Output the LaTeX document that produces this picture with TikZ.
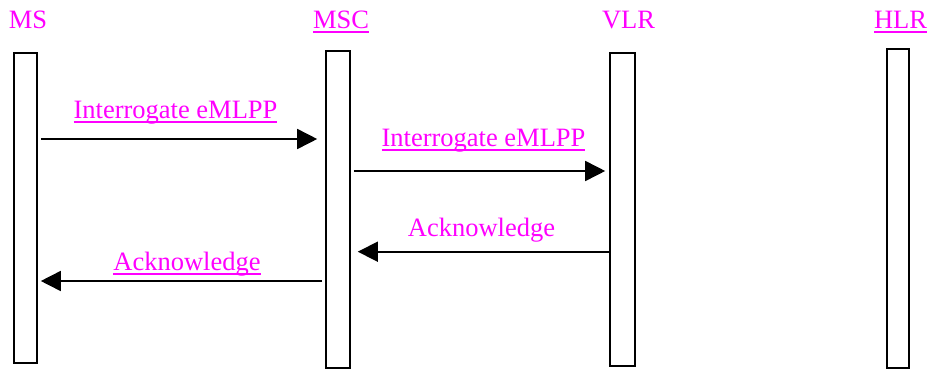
\documentclass[tikz,border=0pt]{standalone}
\usepackage{fontspec}
\setmainfont{Liberation Serif}
\usetikzlibrary{arrows.meta}
\definecolor{lblmagenta}{RGB}{255,0,255}
\newcommand{\ulabel}[1]{\setbox0\hbox{#1}\rlap{\rule[-4.5pt]{\wd0}{2pt}}\box0}

\begin{document}
\begin{tikzpicture}[x=1pt,y=-1pt,
    entity/.style={draw,line width=1.6pt,inner sep=0pt},
    lbl/.style={text=lblmagenta,font=\fontsize{26.5}{31}\selectfont,anchor=base,inner sep=0pt},
    msg/.style={line width=1.6pt,-{Triangle[length=20pt,width=20pt]}}]
  \useasboundingbox (0,0) rectangle (931,369);

  % entities
  \node[entity,minimum width=23pt,minimum height=310pt] (ms) at (25.5,208) {};
  \node[entity,minimum width=24pt,minimum height=317pt] (msc) at (338,209.5) {};
  \node[entity,minimum width=25pt,minimum height=313pt] (vlr) at (622.5,209.5) {};
  \node[entity,minimum width=22pt,minimum height=319pt] (hlr) at (898,208.5) {};

  \node[lbl] (msl) at (28,29) {MS};
  \node[lbl] (mscl) at (341,29) {\ulabel{MSC}};
  \node[lbl] (vlrl) at (628.5,29) {VLR};
  \node[lbl] (hlrl) at (900.5,29) {\ulabel{HLR}};

  % messages
  \coordinate (m1) at (0,139);
  \coordinate (m2) at (0,171);
  \coordinate (m3) at (0,251.7);
  \coordinate (m4) at (0,281);

  \draw[msg,shorten <=3pt,shorten >=8pt] (ms.east |- m1) -- (msc.west |- m1);
  \node[lbl] (m1l) at (175.5,118.3) {\ulabel{Interrogate eMLPP}};

  \draw[msg,shorten <=3pt,shorten >=4pt] (msc.east |- m2) -- (vlr.west |- m2);
  \node[lbl] (m2l) at (483.5,146.7) {\ulabel{Interrogate eMLPP}};

  \draw[msg,shorten >=7pt] (vlr.west |- m3) -- (msc.east |- m3);
  \node[lbl] (m3l) at (481.5,236.7) {Acknowledge};

  \draw[msg,shorten <=3pt,shorten >=3pt] (msc.west |- m4) -- (ms.east |- m4);
  \node[lbl] (m4l) at (187,270.7) {\ulabel{Acknowledge}};
\end{tikzpicture}
\end{document}
